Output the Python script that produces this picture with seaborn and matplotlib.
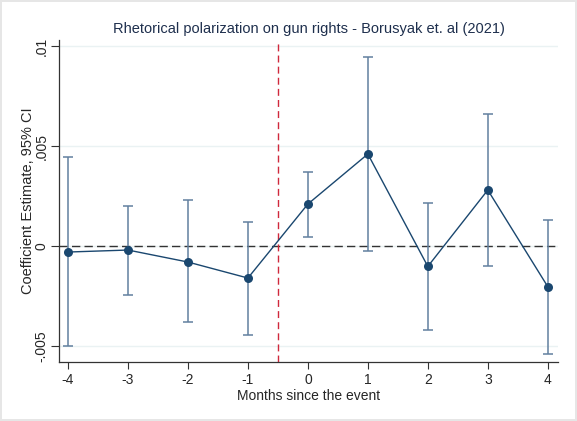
import numpy as np
import pandas as pd
import matplotlib
matplotlib.use("Agg")
import matplotlib.pyplot as plt
import seaborn as sns

# event-study estimates
months = [-4, -3, -2, -1, 0, 1, 2, 3, 4]
coef = [-0.0003, -0.0002, -0.0008, -0.0016, 0.0021, 0.0046, -0.00102, 0.0028, -0.00203]
ci_low = [-0.00498, -0.00245, -0.0038, -0.00445, 0.00045, -0.00023, -0.0042, -0.00098, -0.00541]
ci_high = [0.00447, 0.0020, 0.0023, 0.0012, 0.00372, 0.00943, 0.00215, 0.0066, 0.00132]
ytick_vals = [-0.005, 0, 0.005, 0.01]
ytick_labels = ["-.005", "0", ".005", ".01"]

df = pd.DataFrame({"month": months, "coef": coef, "lo": ci_low, "hi": ci_high})

sns.set_style("white")
plt.rcParams["font.family"] = ["Liberation Sans", "DejaVu Sans"]

navy = "#1a476f"
fig = plt.figure(figsize=(5.77, 4.21), dpi=100)
fig.patch.set_edgecolor("#e6e6e6")
fig.patch.set_linewidth(1.5)
ax = fig.add_axes([0.1023, 0.140, 0.8647, 0.765])

for v in ytick_vals:
    ax.axhline(v, color="#eaf2f3", lw=1.0, zorder=0)

# confidence intervals
ax.errorbar(df["month"], df["coef"],
            yerr=[df["coef"] - df["lo"], df["hi"] - df["coef"]],
            fmt="none", ecolor="#62809f", elinewidth=1.1, capsize=3.5,
            capthick=1.1, zorder=2)

sns.lineplot(data=df, x="month", y="coef", ax=ax, color=navy, lw=1.0,
             marker="o", markersize=6.5, markeredgewidth=0,
             markerfacecolor=navy, zorder=3)

ax.axhline(0, color="#333333", lw=1.0, ls=(0, (6, 3)), zorder=1)
ax.axvline(-0.5, color="#d0283c", lw=1.0, ls=(0, (5, 3)), zorder=1)

ax.set_xlim(-4.15, 4.17)
ax.set_ylim(-0.0058, 0.0103)
ax.set_xticks(months)
ax.set_xticklabels([str(m) for m in months])
ax.set_yticks(ytick_vals)
ax.set_yticklabels(ytick_labels, rotation=90, va="center")

ax.tick_params(axis="both", direction="out", length=5, width=0.8,
               color="#333333", labelsize=10, left=True, bottom=True, pad=3)
ax.tick_params(axis="y", length=5.5, pad=2)
for s in ["top", "right"]:
    ax.spines[s].set_visible(False)
for s in ["left", "bottom"]:
    ax.spines[s].set_color("#333333")
    ax.spines[s].set_linewidth(0.9)

ax.set_xlabel("Months since the event", fontsize=10, labelpad=1)
ax.set_ylabel("Coefficient Estimate, 95% CI", fontsize=10.5, labelpad=0)
ax.set_title("Rhetorical polarization on gun rights - Borusyak et. al (2021)",
             fontsize=10.5, color="#1e2f4d", pad=5)

fig.savefig("out.png", dpi=100, edgecolor=fig.get_edgecolor())
